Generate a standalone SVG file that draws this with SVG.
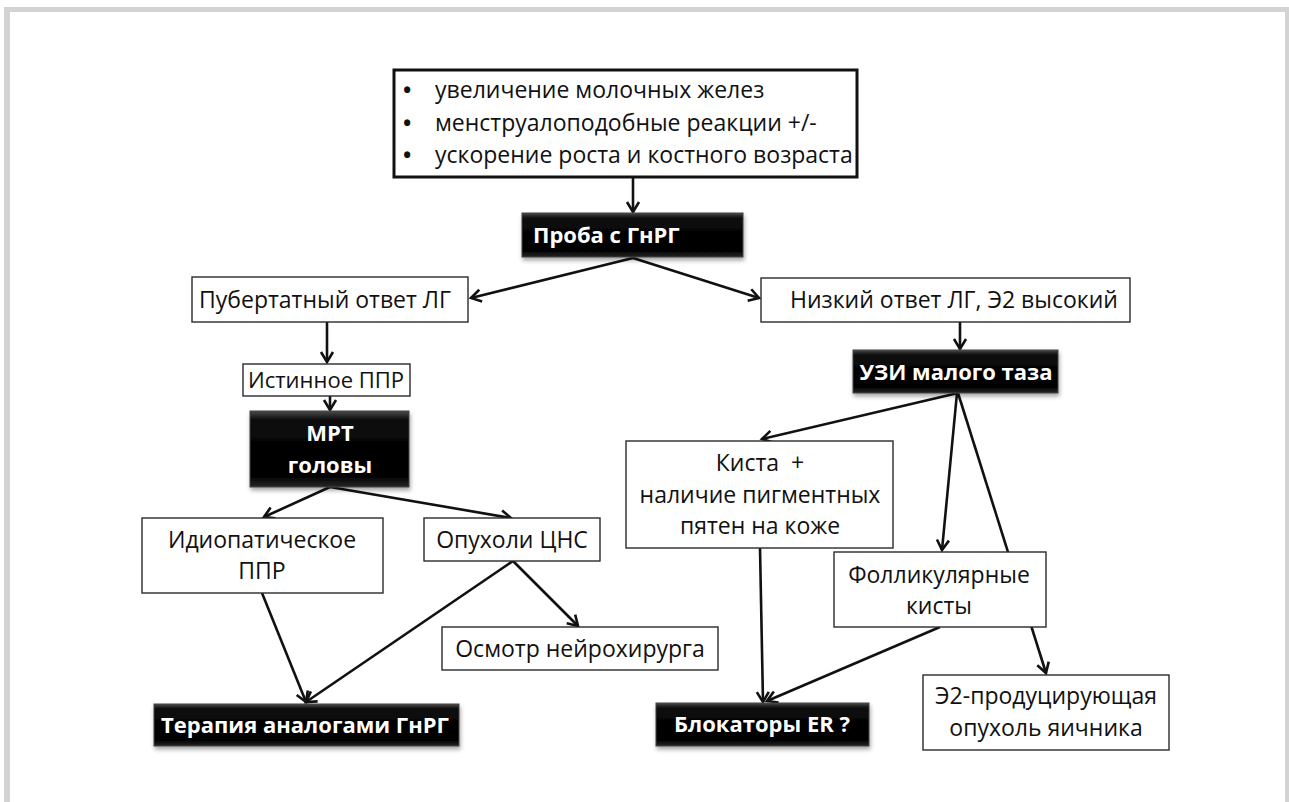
<svg xmlns="http://www.w3.org/2000/svg" width="1289" height="802" viewBox="0 0 1289 802">
<style>
.t{font-family:"Open Sans","Liberation Sans",sans-serif;font-size:23px;fill:#111;text-anchor:middle}
.b{font-family:"Open Sans","Liberation Sans",sans-serif;font-size:22px;font-weight:bold;fill:#fff;text-anchor:middle}
.tl{text-anchor:start}
.bul{font-size:22px;font-weight:bold}
.wb{fill:#fff;stroke:#2a2a2a;stroke-width:1.4}
.bb{fill:url(#g);stroke:#444;stroke-width:1;filter:url(#sh)}
.c line{stroke:#111;stroke-width:2.6;fill:none;marker-end:url(#ah)}
</style>
<defs>
<linearGradient id="g" x1="0" y1="0" x2="0" y2="1">
<stop offset="0" stop-color="#4a4a4a"/>
<stop offset="0.12" stop-color="#0a0a0a"/>
<stop offset="0.85" stop-color="#000"/>
<stop offset="1" stop-color="#262626"/>
</linearGradient>
<filter id="sh" x="-10%" y="-20%" width="120%" height="150%">
<feDropShadow dx="1" dy="3" stdDeviation="2" flood-color="#000" flood-opacity="0.35"/>
</filter>
<marker id="ah" markerUnits="userSpaceOnUse" markerWidth="16" markerHeight="16" refX="13" refY="8" orient="auto">
<path d="M3,2 L13,8 L3,14" fill="none" stroke="#111" stroke-width="2.6"/>
</marker>
</defs>
<rect x="0" y="0" width="1289" height="802" fill="#fff"/>
<g id="frame" fill="#d3d3d3">
<rect x="4" y="7" width="1285" height="5"/>
<rect x="4" y="7" width="6" height="795"/>
<rect x="1285" y="7" width="4" height="795"/>
</g>
<g id="connectors" class="c">
<line x1="633" y1="178" x2="633" y2="212"/>
<line x1="633" y1="258" x2="471" y2="298"/>
<line x1="633" y1="258" x2="759" y2="298"/>
<line x1="327" y1="322" x2="327" y2="362"/>
<line x1="330" y1="396" x2="330" y2="410"/>
<line x1="330" y1="487" x2="264" y2="517"/>
<line x1="330" y1="487" x2="511" y2="518"/>
<line x1="262" y1="593" x2="306" y2="702"/>
<line x1="513" y1="561" x2="306" y2="702"/>
<line x1="513" y1="561" x2="578" y2="626"/>
<line x1="960" y1="322" x2="960" y2="349"/>
<line x1="958" y1="393" x2="762" y2="439"/>
<line x1="957" y1="393" x2="942" y2="550"/>
<line x1="958" y1="393" x2="1046" y2="673"/>
<line x1="760" y1="548" x2="763" y2="702"/>
<line x1="940" y1="627" x2="767" y2="701"/>
</g>
<g id="n-top">
<rect x="394" y="70" width="463" height="107" fill="#fff" stroke="#111" stroke-width="3"/>
<text class="t tl bul" x="403" y="98">•</text>
<text class="t tl bul" x="403" y="131">•</text>
<text class="t tl bul" x="403" y="163">•</text>
<text class="t tl" x="435" y="98">увеличение молочных желез</text>
<text class="t tl" x="435" y="131">менструалоподобные реакции +/-</text>
<text class="t tl" x="435" y="163">ускорение роста и костного возраста</text>
</g>
<g id="n-proba">
<rect class="bb" x="522" y="213" width="221" height="44"/>
<text class="b tl" x="533" y="243">Проба с ГнРГ</text>
</g>
<g id="n-pub">
<rect class="wb" x="192" y="277" width="276" height="45"/>
<text class="t" x="325" y="308">Пубертатный ответ ЛГ</text>
</g>
<g id="n-low">
<rect class="wb" x="761" y="278" width="369" height="44"/>
<text class="t" x="954" y="308">Низкий ответ ЛГ, Э2 высокий</text>
</g>
<g id="n-ist">
<rect class="wb" x="243" y="364" width="167" height="32"/>
<text class="t" x="326" y="388" style="font-size:22px">Истинное ППР</text>
</g>
<g id="n-uzi">
<rect class="bb" x="853" y="350" width="205" height="43"/>
<text class="b" x="956" y="380">УЗИ малого таза</text>
</g>
<g id="n-mrt">
<rect class="bb" x="250" y="411" width="159" height="76"/>
<text class="b" x="330" y="441">МРТ</text>
<text class="b" x="330" y="473">головы</text>
</g>
<g id="n-idio">
<rect class="wb" x="142" y="518" width="241" height="75"/>
<text class="t" x="262" y="548">Идиопатическое</text>
<text class="t" x="262" y="579">ППР</text>
</g>
<g id="n-cns">
<rect class="wb" x="424" y="518" width="176" height="43"/>
<text class="t" x="512" y="548">Опухоли ЦНС</text>
</g>
<g id="n-neuro">
<rect class="wb" x="442" y="627" width="276" height="43"/>
<text class="t" x="580" y="657">Осмотр нейрохирурга</text>
</g>
<g id="n-ther">
<rect class="bb" x="154" y="704" width="305" height="42"/>
<text class="b" x="305" y="733">Терапия аналогами ГнРГ</text>
</g>
<g id="n-cyst">
<rect class="wb" x="626" y="441" width="267" height="107"/>
<text class="t" x="760" y="471" style="white-space:pre">Киста  +</text>
<text class="t" x="760" y="503">наличие пигментных</text>
<text class="t" x="760" y="534">пятен на коже</text>
</g>
<g id="n-foll">
<rect class="wb" x="834" y="552" width="212" height="75"/>
<text class="t" x="939" y="583">Фолликулярные</text>
<text class="t" x="939" y="614">кисты</text>
</g>
<g id="n-block">
<rect class="bb" x="656" y="703" width="213" height="43"/>
<text class="b" x="762" y="732">Блокаторы ER ?</text>
</g>
<g id="n-e2">
<rect class="wb" x="923" y="675" width="246" height="75"/>
<text class="t" x="1046" y="704">Э2-продуцирующая</text>
<text class="t" x="1046" y="736">опухоль яичника</text>
</g>
</svg>
